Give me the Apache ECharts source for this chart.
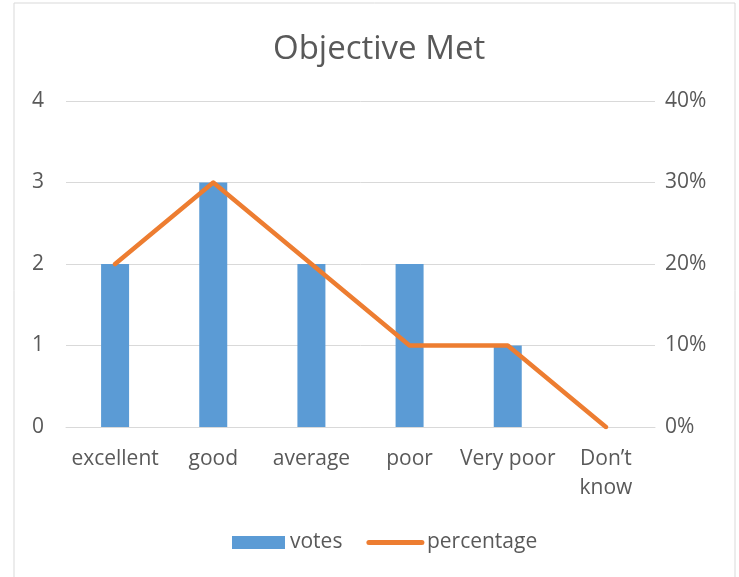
<!DOCTYPE html>
<html>
<head>
<meta charset="utf-8">
<script src="https://cdn.jsdelivr.net/npm/echarts@6/dist/echarts.min.js"></script>
<style>
  html, body { margin: 0; padding: 0; background: #fff; }
  #main { width: 739px; height: 577px; }
</style>
</head>
<body>
<div id="main"></div>
<script>
const categories = ['excellent', 'good', 'average', 'poor', 'Very poor', 'Don\u2019t\nknow'];
const votes = [2, 3, 2, 2, 1, 0];
const percentage = [0.2, 0.3, 0.2, 0.1, 0.1, 0];

const textColor = '#595959';
const font = 'Open Sans';

const chart = echarts.init(document.getElementById('main'));

let option = {
  animation: false,
  backgroundColor: '#fff',
  textStyle: { fontFamily: font, color: textColor },
  title: {
    text: 'Objective Met',
    left: 268,
    top: 28,
    textStyle: { fontFamily: font, fontSize: 33, fontWeight: 'normal', color: textColor }
  },
  graphic: [{
    type: 'rect',
    shape: { x: 14, y: 3, width: 721, height: 590 },
    style: { fill: 'none', stroke: '#d9d9d9', lineWidth: 1 },
    silent: true
  }],
  grid: { left: 66, right: 84, top: 101, bottom: 150, outerBoundsMode: 'none' },
  legend: {
    bottom: 19,
    left: 227,
    itemWidth: 53,
    itemHeight: 13,
    itemGap: 24,
    textStyle: { fontFamily: font, fontSize: 21, color: textColor },
    data: [
      { name: 'votes', icon: 'rect' },
      { name: 'percentage', itemStyle: { opacity: 0 }, lineStyle: { width: 5, cap: 'round' } }
    ]
  },
  xAxis: {
    type: 'category',
    data: categories,
    axisLine: { lineStyle: { color: '#d9d9d9' } },
    axisTick: { show: false },
    axisLabel: { fontFamily: font, fontSize: 21, color: textColor, margin: 18, lineHeight: 29, interval: 0 }
  },
  yAxis: [
    {
      type: 'value',
      min: 0, max: 4, interval: 1,
      axisLine: { show: false },
      axisTick: { show: false },
      splitLine: { lineStyle: { color: '#d9d9d9', width: 1 } },
      axisLabel: { fontFamily: font, fontSize: 21, color: textColor, margin: 22 }
    },
    {
      type: 'value',
      min: 0, max: 0.4, interval: 0.1,
      axisLine: { show: false },
      axisTick: { show: false },
      splitLine: { show: false },
      axisLabel: {
        fontFamily: font, fontSize: 21, color: textColor, margin: 10,
        formatter: v => Math.round(v * 100) + '%'
      }
    }
  ],
  series: [
    {
      name: 'votes',
      type: 'bar',
      data: votes,
      barWidth: 28,
      itemStyle: { color: '#5b9bd5' }
    },
    {
      name: 'percentage',
      type: 'line',
      yAxisIndex: 1,
      data: percentage,
      symbol: 'none',
      lineStyle: { color: '#ed7d31', width: 4.5, cap: 'round', join: 'round' },
      itemStyle: { color: '#ed7d31' }
    }
  ]
};

chart.setOption(option);
</script>
</body>
</html>
